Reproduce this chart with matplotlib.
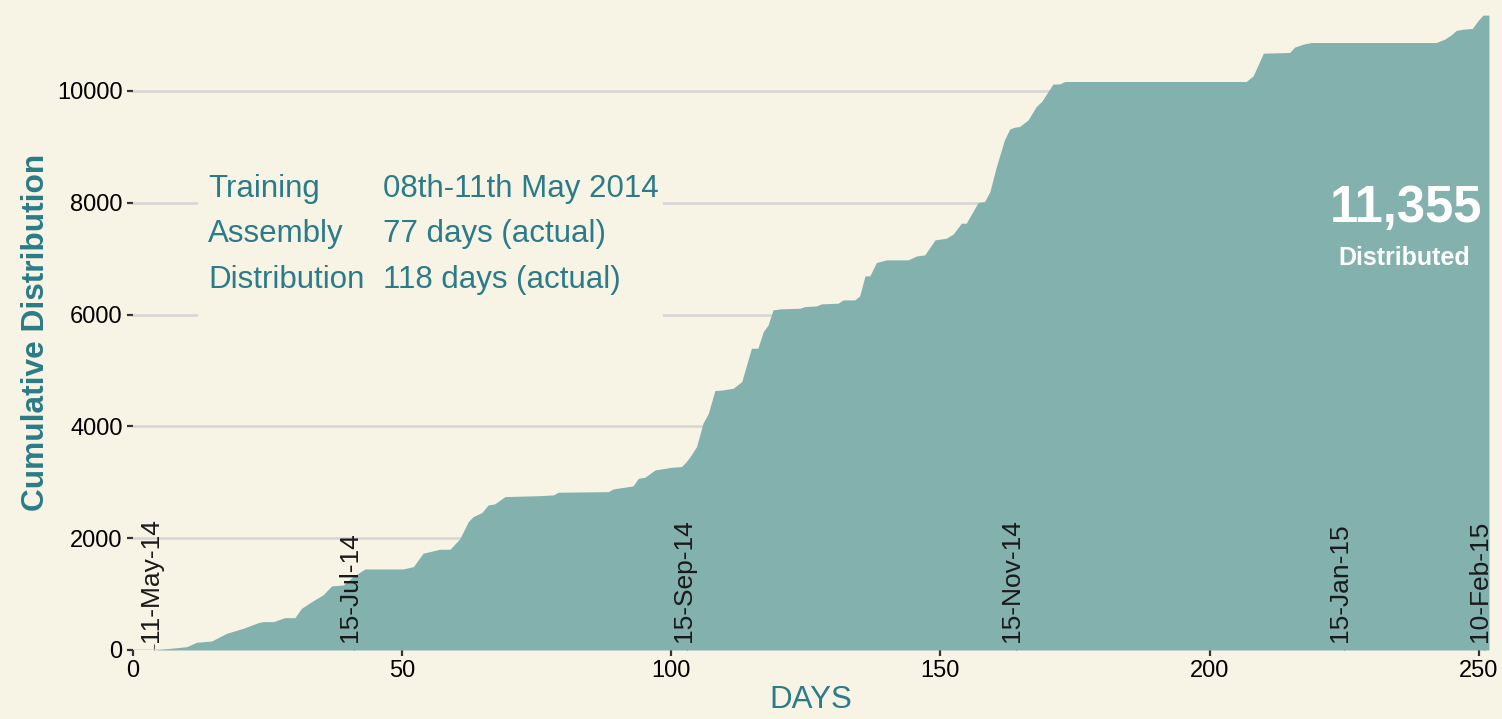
import matplotlib.pyplot as plt
from matplotlib.patches import Rectangle

plt.rcParams['font.family'] = ['Liberation Sans', 'DejaVu Sans']

bg = '#F7F3E5'
fill = '#82B1AE'
teal = '#2B7C88'

# cumulative distribution (day, cumulative count)
days = [0, 4, 10, 11.8, 14.6, 17.4, 20.5, 23.3, 24.2, 26.1, 28.2, 30.1, 31.3, 33.2,
        35.3, 36.9, 39.1, 40.9, 43.1, 50.2, 52.1, 53.9, 57.0, 58.9, 60.7, 62.3, 63.2,
        64.8, 66.0, 67.2, 69.1, 75.6, 78.1, 79.0, 88.3, 89.2, 92.9, 93.9, 95.1, 97.0,
        100.1, 101.9, 102.8, 103.5, 104.7, 105.9, 106.9, 108.1, 109.6, 111.5, 113.1,
        114.9, 116.1, 117.1, 118.0, 118.9, 120.2, 123.9, 124.8, 127.0, 127.9, 131.0,
        131.9, 134.1, 135.0, 136.0, 136.9, 138.1, 140.0, 144.0, 145.6, 147.1, 149.0,
        151.1, 152.4, 153.9, 154.8, 157.0, 158.2, 159.2, 160.4, 161.9, 162.9, 163.8,
        164.7, 166.3, 167.8, 168.8, 170.9, 172.2, 173.1, 206.8, 208.1, 210.0, 214.9,
        215.8, 217.4, 218.9, 242.1, 243.7, 244.9, 245.8, 247.1, 248.8, 249.9, 250.8,
        251.9]
cumulative = [0, 0, 59, 137, 160, 298, 388, 489, 507, 507, 578, 578, 745, 864,
              984, 1145, 1163, 1312, 1449, 1449, 1491, 1730, 1801, 1801, 1986, 2295, 2385,
              2457, 2594, 2612, 2743, 2760, 2773, 2821, 2832, 2880, 2934, 3071, 3089, 3220,
              3268, 3280, 3369, 3458, 3637, 4055, 4234, 4639, 4651, 4681, 4800,
              5397, 5397, 5694, 5814, 6082, 6100, 6112, 6141, 6154, 6190, 6202,
              6261, 6261, 6333, 6691, 6691, 6929, 6977, 6977, 7048, 7066, 7335,
              7364, 7442, 7633, 7633, 8002, 8020, 8199, 8646, 9123, 9320, 9350,
              9362, 9481, 9720, 9809, 10120, 10125, 10167, 10167, 10268, 10674, 10686,
              10782, 10835, 10864, 10864, 10925, 11002, 11079, 11103, 11115, 11258, 11355,
              11355]

date_days = [4, 41, 103, 164, 225, 251]
date_labels = ['11-May-14', '15-Jul-14', '15-Sep-14', '15-Nov-14', '15-Jan-15', '10-Feb-15']

info_keys = ['Training', 'Assembly', 'Distribution']
info_vals = ['08th-11th May 2014', '77 days (actual)', '118 days (actual)']

total = 11355

fig = plt.figure(figsize=(15.02, 7.19), dpi=100, facecolor=bg)
ax = fig.add_axes([0.0885, 0.096, 0.9028, 0.883])
ax.set_facecolor(bg)

ax.fill_between(days, cumulative, color=fill, linewidth=0, zorder=2)

ax.set_xlim(0, days[-1])
ax.set_ylim(0, total)
ax.set_xticks(range(0, 251, 50))
ax.set_yticks(range(0, 10001, 2000))
ax.set_xticks(date_days, minor=True)

ax.yaxis.grid(True, color='#D5D5D5', linewidth=1.8, zorder=0)
ax.set_axisbelow(True)
for s in ax.spines.values():
    s.set_visible(False)

ax.tick_params(axis='both', which='major', direction='out', length=4.5, width=1.6,
               color='#333333', labelsize=17, labelcolor='black', pad=3)
ax.tick_params(axis='x', which='minor', direction='in', length=4, width=0.8,
               color='#555555')

for d, lab in zip(date_days, date_labels):
    ax.text(d + 0.6, 150, lab, rotation=90, rotation_mode='anchor', ha='left',
            va='baseline', fontsize=19, color='#1a1a1a', zorder=4)

# panel behind the info text, hides the gridlines
ax.add_patch(Rectangle((0.048, 0.457), 0.343, 0.346, transform=ax.transAxes,
                       facecolor=bg, edgecolor='none', zorder=1))
for i, (k, v) in enumerate(zip(info_keys, info_vals)):
    yy = 0.7134 - i * 0.0713
    ax.text(0.0553, yy, k, transform=ax.transAxes, fontsize=22.5, color=teal,
            va='baseline', ha='left', zorder=3)
    ax.text(0.1844, yy, v, transform=ax.transAxes, fontsize=22.5, color=teal,
            va='baseline', ha='left', zorder=3)

ax.text(236.4, 7662, f'{total:,}', ha='center', va='baseline', fontsize=36.5,
        fontweight='bold', color='white', zorder=3)
ax.text(236.2, 6887, 'Distributed', ha='center', va='baseline', fontsize=18,
        fontweight='bold', color='white', zorder=3)

ax.set_ylabel('Cumulative Distribution', fontsize=22.8, fontweight='bold', color=teal)
ax.yaxis.set_label_coords(-0.0605, 0.5)
ax.set_xlabel('DAYS', fontsize=22.5, color=teal)
ax.xaxis.set_label_coords(0.5, -0.055)

fig.savefig('out.png', dpi=100, facecolor=bg)
